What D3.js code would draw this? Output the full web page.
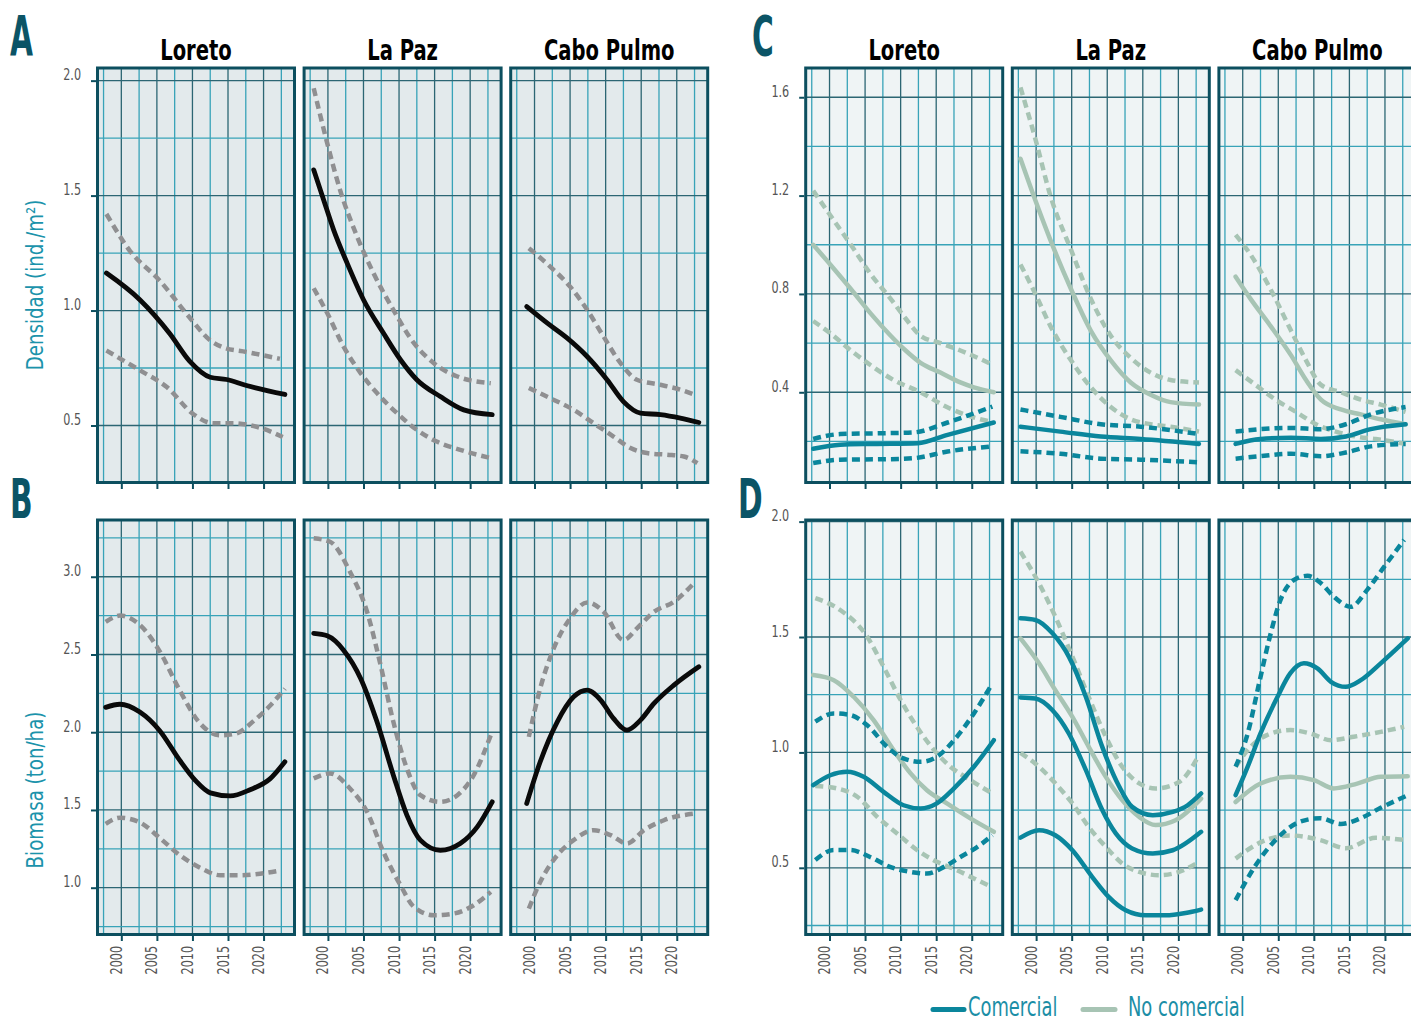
<!DOCTYPE html>
<html>
<head>
<meta charset="utf-8">
<script src="https://cdn.jsdelivr.net/npm/d3@7"></script>
<style>
  body { margin: 0; background: #fff; }
  svg text { font-family: 'Liberation Sans Narrow', 'DejaVu Sans Condensed', sans-serif; }
</style>
</head>
<body>
<svg width="1411" height="1022"></svg>
<script>
// sites and axis ticks
var sites = ["Loreto", "La Paz", "Cabo Pulmo"];
var yearTicks = [2000, 2005, 2010, 2015, 2020];
var densTicks = [0.5, 1.0, 1.5, 2.0];
var bioTicks = [1.0, 1.5, 2.0, 2.5, 3.0];
var densGroupTicks = [0.4, 0.8, 1.2, 1.6];
var bioGroupTicks = [0.5, 1.0, 1.5, 2.0];

// ---- A: densidad total, [year, value] ----
var densLoreto = {
  mean: [[1997.9,1.163],[2002.6,1.047],[2006.8,0.90],[2009.6,0.78],[2012.5,0.71],[2014.8,0.70],[2017.6,0.674],[2023.0,0.635]],
  hi:   [[1997.9,1.42],[2001.2,1.26],[2005.4,1.13],[2009.6,0.97],[2012.5,0.87],[2014.3,0.84],[2017.6,0.82],[2022.3,0.79]],
  lo:   [[1997.9,0.826],[2002.6,0.74],[2006.4,0.667],[2010.1,0.55],[2012.9,0.51],[2015.7,0.51],[2019.5,0.49],[2022.7,0.45]]
};
var densLaPaz = {
  mean: [[1998.0,1.612],[1999.4,1.481],[2000.8,1.351],[2002.7,1.206],[2005.0,1.047],[2007.8,0.902],[2010.2,0.786],[2012.5,0.699],[2015.8,0.626],[2019.1,0.568],[2023.1,0.547]],
  hi:   [[1998.0,1.967],[1999.9,1.728],[2001.7,1.525],[2004.1,1.322],[2006.4,1.163],[2009.2,1.003],[2012.1,0.858],[2014.9,0.771],[2018.2,0.713],[2022.9,0.684]],
  lo:   [[1998.0,1.097],[1999.9,0.989],[2002.2,0.843],[2004.6,0.728],[2006.9,0.641],[2009.7,0.554],[2012.5,0.481],[2015.3,0.43],[2018.6,0.394],[2022.9,0.358]]
};
var densCabo = {
  mean: [[1998.9,1.017],[2001.8,0.945],[2004.6,0.88],[2007.4,0.80],[2010.2,0.699],[2012.5,0.604],[2014.9,0.554],[2017.7,0.547],[2020.5,0.532],[2023.1,0.513]],
  hi:   [[1999.2,1.271],[2002.2,1.191],[2005.0,1.104],[2007.4,1.003],[2009.7,0.887],[2012.1,0.771],[2014.4,0.699],[2017.7,0.677],[2020.6,0.655],[2022.6,0.633]],
  lo:   [[1999.2,0.663],[2002.2,0.619],[2005.5,0.568],[2008.3,0.51],[2011.1,0.452],[2013.5,0.402],[2015.8,0.38],[2018.6,0.373],[2021.0,0.365],[2022.9,0.336]]
};

// ---- B: biomasa total ----
var bioLoreto = {
  mean: [[1997.8,2.16],[1999.8,2.18],[2002.6,2.13],[2005.4,2.01],[2008.2,1.82],[2010.4,1.69],[2012.5,1.61],[2015.3,1.59],[2018.1,1.63],[2020.9,1.70],[2023.0,1.81]],
  hi:   [[1997.8,2.71],[1999.8,2.75],[2002.6,2.69],[2005.4,2.52],[2008.2,2.27],[2011.0,2.06],[2013.9,1.98],[2016.0,1.99],[2018.8,2.08],[2020.9,2.17],[2023.0,2.28]],
  lo:   [[1997.8,1.41],[1999.8,1.45],[2002.6,1.42],[2005.4,1.32],[2008.2,1.21],[2011.0,1.13],[2013.9,1.08],[2016.7,1.08],[2019.5,1.09],[2022.3,1.11]]
};
var bioLaPaz = {
  mean: [[1998.0,2.636],[1999.9,2.62],[2002.2,2.528],[2004.6,2.346],[2006.9,2.067],[2009.2,1.724],[2011.1,1.467],[2013.0,1.306],[2015.8,1.241],[2018.6,1.284],[2021.0,1.391],[2023.1,1.552]],
  hi:   [[1998.0,3.247],[2000.3,3.225],[2003.1,3.032],[2005.5,2.775],[2007.4,2.432],[2009.2,2.067],[2011.1,1.767],[2013.0,1.595],[2015.8,1.552],[2018.2,1.595],[2020.5,1.724],[2022.9,1.981]],
  lo:   [[1998.0,1.703],[2000.3,1.735],[2003.1,1.638],[2005.5,1.488],[2007.8,1.23],[2010.2,1.016],[2012.1,0.876],[2014.9,0.823],[2017.7,0.834],[2020.5,0.887],[2022.9,0.973]]
};
var bioCabo = {
  mean: [[1998.9,1.542],[2000.8,1.81],[2003.2,2.067],[2005.5,2.228],[2007.4,2.271],[2009.3,2.207],[2011.1,2.089],[2013.0,2.014],[2014.9,2.078],[2016.8,2.185],[2019.6,2.303],[2023.1,2.421]],
  hi:   [[1999.2,1.97],[2000.8,2.282],[2002.7,2.539],[2005.0,2.732],[2007.4,2.835],[2009.7,2.775],[2012.5,2.593],[2014.4,2.668],[2016.8,2.775],[2019.6,2.839],[2022.6,2.968]],
  lo:   [[1999.2,0.866],[2000.8,1.037],[2003.2,1.209],[2005.5,1.306],[2008.3,1.37],[2010.7,1.338],[2013.0,1.284],[2015.4,1.37],[2018.2,1.434],[2022.6,1.477]]
};

// ---- C: densidad comercial / no comercial ----
var grpDensLoreto = {
  nc:   [[1997.7,1.0],[2000.1,0.92],[2003.0,0.82],[2005.8,0.72],[2008.6,0.63],[2010.7,0.57],[2012.8,0.52],[2015.6,0.48],[2018.4,0.44],[2020.3,0.42],[2023.1,0.40]],
  ncHi: [[1997.7,1.22],[2000.1,1.12],[2003.0,1.0],[2005.8,0.88],[2008.6,0.78],[2010.7,0.70],[2012.8,0.63],[2015.6,0.60],[2018.4,0.57],[2023.1,0.51]],
  ncLo: [[1997.7,0.69],[2000.1,0.64],[2003.0,0.57],[2005.8,0.51],[2009.0,0.45],[2012.8,0.40],[2016.5,0.34],[2020.0,0.30],[2022.7,0.28]],
  com:   [[1997.7,0.17],[2001.5,0.187],[2006.2,0.19],[2012.4,0.193],[2016.6,0.227],[2023.1,0.277]],
  comHi: [[1997.7,0.21],[2001.5,0.23],[2008.6,0.234],[2011.9,0.237],[2016.6,0.277],[2022.9,0.342]],
  comLo: [[1997.7,0.112],[2001.5,0.126],[2008.6,0.128],[2011.9,0.132],[2016.6,0.159],[2022.9,0.18]]
};
var grpDensLaPaz = {
  nc:   [[1997.8,1.35],[1999.9,1.18],[2002.0,1.02],[2004.9,0.82],[2007.7,0.65],[2010.5,0.53],[2013.3,0.44],[2016.1,0.39],[2018.9,0.36],[2022.9,0.35]],
  ncHi: [[1997.8,1.64],[1999.9,1.43],[2002.0,1.20],[2004.9,0.98],[2007.7,0.78],[2010.5,0.63],[2013.3,0.54],[2016.1,0.48],[2018.9,0.45],[2022.9,0.44]],
  ncLo: [[1997.8,0.92],[1999.9,0.80],[2002.0,0.67],[2004.9,0.53],[2007.7,0.42],[2010.5,0.34],[2013.3,0.29],[2016.1,0.27],[2018.9,0.26],[2022.9,0.24]],
  com:   [[1997.8,0.26],[2003.4,0.24],[2009.1,0.22],[2014.7,0.21],[2022.9,0.19]],
  comHi: [[1997.8,0.33],[2003.4,0.30],[2009.1,0.27],[2014.7,0.26],[2022.9,0.23]],
  comLo: [[1997.8,0.16],[2003.4,0.15],[2009.1,0.13],[2014.7,0.126],[2022.9,0.115]]
};
var grpDensCabo = {
  nc:   [[1999.0,0.87],[2001.1,0.78],[2003.9,0.67],[2006.8,0.55],[2008.9,0.45],[2011.0,0.37],[2013.8,0.33],[2016.6,0.31],[2019.4,0.29],[2022.9,0.27]],
  ncHi: [[1999.0,1.04],[2001.1,0.96],[2003.9,0.82],[2006.8,0.65],[2008.9,0.53],[2011.0,0.43],[2013.8,0.40],[2016.6,0.37],[2019.4,0.35],[2022.9,0.32]],
  ncLo: [[1999.0,0.49],[2001.8,0.43],[2004.6,0.37],[2007.5,0.32],[2010.3,0.27],[2013.1,0.24],[2015.9,0.22],[2018.7,0.21],[2022.9,0.19]],
  com:   [[1999.0,0.19],[2002.5,0.21],[2006.8,0.215],[2011.0,0.21],[2014.5,0.22],[2018.0,0.25],[2022.9,0.27]],
  comHi: [[1999.0,0.24],[2002.5,0.25],[2006.8,0.255],[2011.0,0.25],[2014.5,0.27],[2018.0,0.31],[2022.9,0.34]],
  comLo: [[1999.0,0.13],[2002.5,0.14],[2006.8,0.15],[2011.0,0.14],[2014.5,0.155],[2018.0,0.18],[2022.9,0.19]]
};

// ---- D: biomasa comercial / no comercial ----
var grpBioLoreto = {
  nc:   [[1997.7,1.335],[2000.6,1.313],[2003.4,1.241],[2006.2,1.14],[2009.0,1.01],[2011.4,0.909],[2013.7,0.836],[2016.5,0.779],[2019.8,0.714],[2023.1,0.656]],
  ncHi: [[1998.0,1.668],[2001.5,1.617],[2005.3,1.501],[2007.6,1.371],[2010.0,1.227],[2012.3,1.11],[2014.7,1.01],[2017.0,0.938],[2019.8,0.88],[2022.9,0.822]],
  ncLo: [[1998.0,0.854],[2001.0,0.844],[2003.9,0.808],[2006.7,0.721],[2009.5,0.649],[2012.3,0.577],[2015.1,0.526],[2017.9,0.49],[2020.3,0.454],[2022.6,0.42]],
  com:   [[1997.7,0.858],[2000.1,0.901],[2002.5,0.916],[2004.8,0.894],[2007.6,0.829],[2010.4,0.771],[2012.8,0.757],[2015.1,0.779],[2017.5,0.844],[2020.3,0.938],[2023.1,1.053]],
  comHi: [[1998.0,1.133],[2000.6,1.169],[2002.9,1.162],[2005.3,1.118],[2008.1,1.024],[2010.4,0.974],[2012.8,0.959],[2015.1,0.981],[2017.5,1.053],[2020.3,1.169],[2022.9,1.299]],
  comLo: [[1998.0,0.534],[2000.6,0.577],[2002.9,0.577],[2005.7,0.547],[2008.5,0.504],[2011.4,0.482],[2013.7,0.475],[2016.1,0.504],[2018.4,0.547],[2020.8,0.591],[2022.9,0.641]]
};
var grpBioLaPaz = {
  nc:   [[1997.8,1.494],[2000.4,1.386],[2002.7,1.27],[2005.1,1.154],[2007.4,1.024],[2009.8,0.894],[2012.1,0.793],[2014.5,0.72],[2016.8,0.685],[2019.6,0.706],[2023.2,0.80]],
  ncHi: [[1997.8,1.87],[2000.4,1.733],[2002.7,1.588],[2005.1,1.415],[2007.4,1.24],[2009.8,1.068],[2012.1,0.938],[2014.5,0.866],[2016.8,0.844],[2020.1,0.872],[2022.9,0.988]],
  ncLo: [[1997.8,0.998],[2000.4,0.938],[2002.7,0.866],[2005.1,0.779],[2007.4,0.677],[2009.8,0.591],[2012.1,0.519],[2014.5,0.482],[2017.3,0.468],[2020.1,0.482],[2022.9,0.526]],
  com:   [[1997.8,1.238],[1999.9,1.234],[2002.3,1.183],[2004.6,1.082],[2007.0,0.923],[2009.3,0.75],[2011.2,0.649],[2013.5,0.584],[2016.4,0.562],[2019.2,0.576],[2023.2,0.656]],
  comHi: [[1997.8,1.581],[1999.9,1.574],[2002.3,1.516],[2004.6,1.415],[2007.0,1.24],[2009.3,1.024],[2011.7,0.851],[2013.5,0.764],[2016.4,0.728],[2019.2,0.742],[2021.3,0.771],[2023.2,0.822]],
  comLo: [[1997.8,0.631],[2000.4,0.663],[2002.7,0.641],[2005.1,0.576],[2007.9,0.46],[2010.2,0.374],[2012.6,0.316],[2015.4,0.294],[2018.2,0.294],[2021.0,0.304],[2023.2,0.319]]
};
var grpBioCabo = {
  nc:   [[1999.0,0.785],[2002.5,0.865],[2006.7,0.894],[2010.0,0.88],[2012.8,0.844],[2016.1,0.865],[2019.4,0.894],[2023.2,0.897]],
  ncHi: [[1999.0,0.938],[2001.1,1.024],[2003.4,1.075],[2006.7,1.097],[2009.5,1.082],[2012.4,1.053],[2015.6,1.068],[2019.4,1.089],[2022.7,1.111]],
  ncLo: [[1999.0,0.54],[2002.5,0.61],[2006.7,0.64],[2010.9,0.62],[2014.5,0.585],[2018.7,0.63],[2022.9,0.62]],
  com:   [[1999.0,0.815],[2000.7,0.938],[2002.5,1.082],[2004.9,1.241],[2006.7,1.343],[2008.6,1.386],[2010.5,1.364],[2012.4,1.306],[2014.5,1.284],[2016.6,1.313],[2019.4,1.386],[2023.2,1.494]],
  comHi: [[1999.0,0.938],[2000.7,1.082],[2002.3,1.299],[2003.7,1.487],[2005.3,1.66],[2007.2,1.747],[2009.1,1.765],[2011.0,1.733],[2012.8,1.675],[2015.2,1.631],[2017.5,1.704],[2019.9,1.805],[2022.7,1.921]],
  comLo: [[1999.0,0.36],[2001.8,0.51],[2004.6,0.62],[2008.1,0.70],[2010.9,0.715],[2013.8,0.69],[2016.6,0.715],[2019.4,0.76],[2022.9,0.81]]
};

// ---------------- layout ----------------
var svg = d3.select("svg");
var panelW = 197, panelH = 414.5, stepX = 206.6;
var colLeft = [97.5, 805.7], rowTop = [68, 520];

var C = {
  border: "#0c4f5f", major: "#2c6673", minor: "#38a3b8", tick: "#555",
  black: "#0a0a0a", grey: "#8f8f91", teal: "#0a869c", sage: "#a7c4b4",
  label: "#0b5466", axisTitle: "#1b93ab"
};

// squeeze text along its baseline to mimic a condensed face
function condense(sel, k) {
  sel.each(function() {
    var t = d3.select(this);
    var tx = +t.attr("x") || 0, ty = +t.attr("y") || 0;
    var prev = t.attr("transform") || "";
    t.attr("x", 0).attr("y", 0)
      .attr("transform", prev + " translate(" + tx + "," + ty + ") scale(" + k + ",1)");
  });
}

var x = d3.scaleLinear().domain([1996.65, 2024.35]).range([0, panelW]);
var line = d3.line().curve(d3.curveMonotoneX);

var blocks = [
  {id: "A", col: 0, row: 0, dom: [0.252, 2.055], ticks: densTicks, grid: 0.25, bg: "#e3eaec", sets: [densLoreto, densLaPaz, densCabo], kind: "total"},
  {id: "B", col: 0, row: 1, dom: [0.699, 3.365], ticks: bioTicks, grid: 0.25, bg: "#e3eaec", sets: [bioLoreto, bioLaPaz, bioCabo], kind: "total"},
  {id: "C", col: 1, row: 0, dom: [0.033, 1.719], ticks: densGroupTicks, grid: 0.2, bg: "#eff4f5", sets: [grpDensLoreto, grpDensLaPaz, grpDensCabo], kind: "group"},
  {id: "D", col: 1, row: 1, dom: [0.211, 2.007], ticks: bioGroupTicks, grid: 0.25, bg: "#eff4f5", sets: [grpBioLoreto, grpBioLaPaz, grpBioCabo], kind: "group"}
];

var defs = svg.append("defs");

blocks.forEach(function(b) {
  var y = d3.scaleLinear().domain(b.dom).range([panelH, 0]);
  var majorStep = b.ticks[1] - b.ticks[0];
  var hGrid = d3.range(Math.ceil(b.dom[0] / b.grid) * b.grid, b.dom[1], b.grid);
  var vGrid = d3.range(1997.5, 2023, 2.5);
  line.x(function(d) { return x(d[0]); }).y(function(d) { return y(d[1]); });

  b.sets.forEach(function(set, i) {
    var left = colLeft[b.col] + i * stepX, top = rowTop[b.row];
    var g = svg.append("g").attr("transform", "translate(" + left + "," + top + ")");
    var clipId = "clip-" + b.id + i;
    defs.append("clipPath").attr("id", clipId)
      .append("rect").attr("width", panelW).attr("height", panelH);

    g.append("rect").attr("width", panelW).attr("height", panelH).attr("fill", b.bg);

    // grid
    g.selectAll(".vg").data(vGrid).enter().append("line")
      .attr("x1", function(d) { return x(d); }).attr("x2", function(d) { return x(d); })
      .attr("y1", 0).attr("y2", panelH)
      .attr("stroke", function(d) { return d % 5 === 0 ? C.major : C.minor; })
      .attr("stroke-width", 1.3);
    g.selectAll(".hg").data(hGrid).enter().append("line")
      .attr("x1", 0).attr("x2", panelW)
      .attr("y1", function(d) { return y(d); }).attr("y2", function(d) { return y(d); })
      .attr("stroke", function(d) {
        var r = d / majorStep;
        return Math.abs(r - Math.round(r)) < 1e-6 ? C.major : C.minor;
      })
      .attr("stroke-width", 1.3);

    var lines = g.append("g").attr("clip-path", "url(#" + clipId + ")");
    function draw(data, color, width, dashed) {
      lines.append("path").datum(data).attr("d", line)
        .attr("fill", "none").attr("stroke", color).attr("stroke-width", width)
        .attr("stroke-dasharray", dashed ? "8,5" : null)
        .attr("stroke-linecap", dashed ? "butt" : "round");
    }
    if (b.kind === "total") {
      draw(set.hi, C.grey, 4.5, true);
      draw(set.lo, C.grey, 4.5, true);
      draw(set.mean, C.black, 4.8, false);
    } else {
      // in the La Paz biomass panel the commercial bounds are drawn solid
      var comDash = !(b.id === "D" && i === 1);
      draw(set.ncHi, C.sage, 4.5, true);
      draw(set.ncLo, C.sage, 4.5, true);
      draw(set.nc, C.sage, 4.5, false);
      draw(set.comHi, C.teal, 4.5, comDash);
      draw(set.comLo, C.teal, 4.5, comDash);
      draw(set.com, C.teal, 4.5, false);
    }

    g.append("rect").attr("x", 0).attr("y", 0).attr("width", panelW).attr("height", panelH)
      .attr("fill", "none").attr("stroke", C.border).attr("stroke-width", 3);

    // x axis
    var xa = g.append("g").attr("transform", "translate(0," + (panelH + 1.5) + ")")
      .call(d3.axisBottom(x).tickValues(yearTicks).tickSize(5).tickFormat(d3.format("d")));
    xa.select(".domain").remove();
    xa.selectAll(".tick line").attr("stroke", C.border).attr("stroke-width", 2);
    if (b.row === 1) {
      xa.selectAll(".tick text")
        .attr("transform", "rotate(-90)")
        .attr("x", -10).attr("y", 0).attr("dy", "0")
        .attr("text-anchor", "end")
        .attr("fill", C.tick).style("font-size", "15px")
        .call(condense, 0.83);
    } else {
      xa.selectAll(".tick text").remove();
    }

    // y axis on first panel
    if (i === 0) {
      var ya = g.append("g").attr("transform", "translate(-1.5,0)")
        .call(d3.axisLeft(y).tickValues(b.ticks).tickSize(5).tickPadding(10).tickFormat(d3.format(".1f")));
      ya.select(".domain").remove();
      ya.selectAll(".tick line").attr("stroke", C.border).attr("stroke-width", 2);
      ya.selectAll(".tick text").attr("dy", "-1").attr("fill", C.tick).style("font-size", "15px")
        .call(condense, 0.83);
    }

    // site titles on top row
    if (b.row === 0) {
      g.append("text").attr("x", panelW / 2).attr("y", -8)
        .attr("text-anchor", "middle").attr("font-weight", "bold")
        .style("font-size", "29px").attr("fill", "#000").text(sites[i])
        .call(condense, 0.75);
    }
  });
});

// panel letters
var letters = [
  {t: "A", x: 10, y: 55}, {t: "B", x: 10, y: 518},
  {t: "C", x: 752, y: 55}, {t: "D", x: 738, y: 518}
];
svg.selectAll(".letter").data(letters).enter().append("text")
  .attr("x", function(d) { return d.x; }).attr("y", function(d) { return d.y; })
  .attr("font-weight", "bold").style("font-size", "55px").attr("fill", C.label)
  .text(function(d) { return d.t; })
  .call(condense, 0.6);

// axis titles
svg.append("text").attr("transform", "translate(43,285) rotate(-90)")
  .attr("text-anchor", "middle").style("font-size", "23px").attr("fill", C.axisTitle)
  .text("Densidad (ind./m²)").call(condense, 0.88);
svg.append("text").attr("transform", "translate(43,790) rotate(-90)")
  .attr("text-anchor", "middle").style("font-size", "23px").attr("fill", C.axisTitle)
  .text("Biomasa (ton/ha)").call(condense, 0.88);

// legend
var legend = [
  {name: "Comercial", color: C.teal, x1: 933, x2: 964, tx: 968},
  {name: "No comercial", color: C.sage, x1: 1083, x2: 1115, tx: 1128}
];
var lg = svg.selectAll(".legend").data(legend).enter().append("g");
lg.append("line")
  .attr("x1", function(d) { return d.x1; }).attr("x2", function(d) { return d.x2; })
  .attr("y1", 1009.5).attr("y2", 1009.5)
  .attr("stroke", function(d) { return d.color; }).attr("stroke-width", 5).attr("stroke-linecap", "round");
lg.append("text").attr("x", function(d) { return d.tx; }).attr("y", 1016)
  .style("font-size", "26px").attr("fill", "#1b8ea6")
  .text(function(d) { return d.name; })
  .call(condense, 0.765);
</script>
</body>
</html>
